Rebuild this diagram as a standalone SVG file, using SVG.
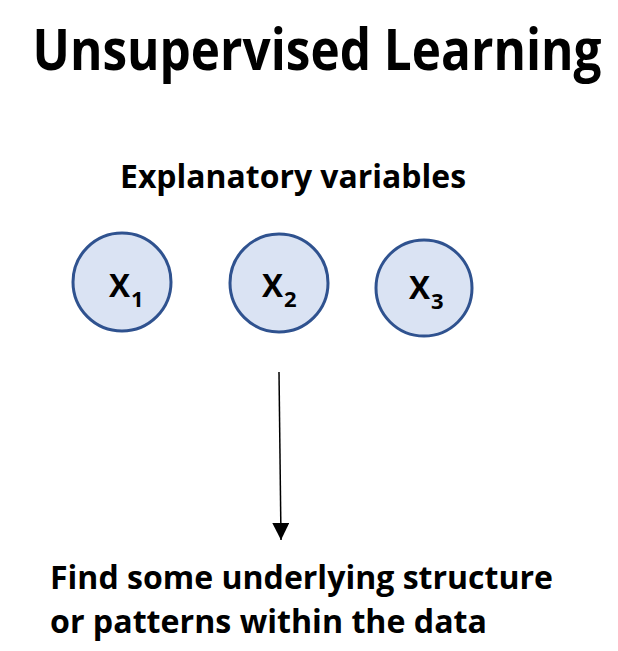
<svg xmlns="http://www.w3.org/2000/svg" width="618" height="651" viewBox="0 0 618 651">
<style>
text{font-family:"Open Sans","Liberation Sans",sans-serif;font-weight:700;fill:#000}
.node circle{fill:#DAE3F3;stroke:#2F528F;stroke-width:3}
.lbl{font-size:33px}
.sub{font-size:22px}
</style>
<defs>
<marker id="ah" viewBox="0 0 10 10" refX="10" refY="5" markerWidth="17" markerHeight="17" markerUnits="userSpaceOnUse" orient="auto">
<path d="M0,0 L10,5 L0,10 Z" fill="#000"/>
</marker>
</defs>
<rect width="618" height="651" fill="#fff"/>
<text x="317" y="70" font-size="49.5" text-anchor="middle" transform="translate(317 70) scale(1 1.17) translate(-317 -70)">Unsupervised Learning</text>
<text x="120" y="188" font-size="33" textLength="346" lengthAdjust="spacingAndGlyphs">Explanatory variables</text>
<g id="x1" class="node">
<circle cx="122" cy="282" r="49"/>
<text class="lbl" x="109" y="297" textLength="21" lengthAdjust="spacingAndGlyphs">X</text>
<text class="sub" x="131" y="307">1</text>
</g>
<g id="x2" class="node">
<circle cx="279" cy="283" r="49"/>
<text class="lbl" x="262" y="297" textLength="21" lengthAdjust="spacingAndGlyphs">X</text>
<text class="sub" x="284" y="307">2</text>
</g>
<g id="x3" class="node">
<circle cx="424" cy="288" r="48"/>
<text class="lbl" x="409" y="299" textLength="21" lengthAdjust="spacingAndGlyphs">X</text>
<text class="sub" x="431" y="309">3</text>
</g>
<g id="connectors">
<line x1="279" y1="372" x2="281" y2="540" stroke="#000" stroke-width="1.5" marker-end="url(#ah)"/>
</g>
<text x="50" y="589" font-size="32" textLength="503" lengthAdjust="spacingAndGlyphs">Find some underlying structure</text>
<text x="50" y="633" font-size="32" textLength="437" lengthAdjust="spacingAndGlyphs">or patterns within the data</text>
</svg>
